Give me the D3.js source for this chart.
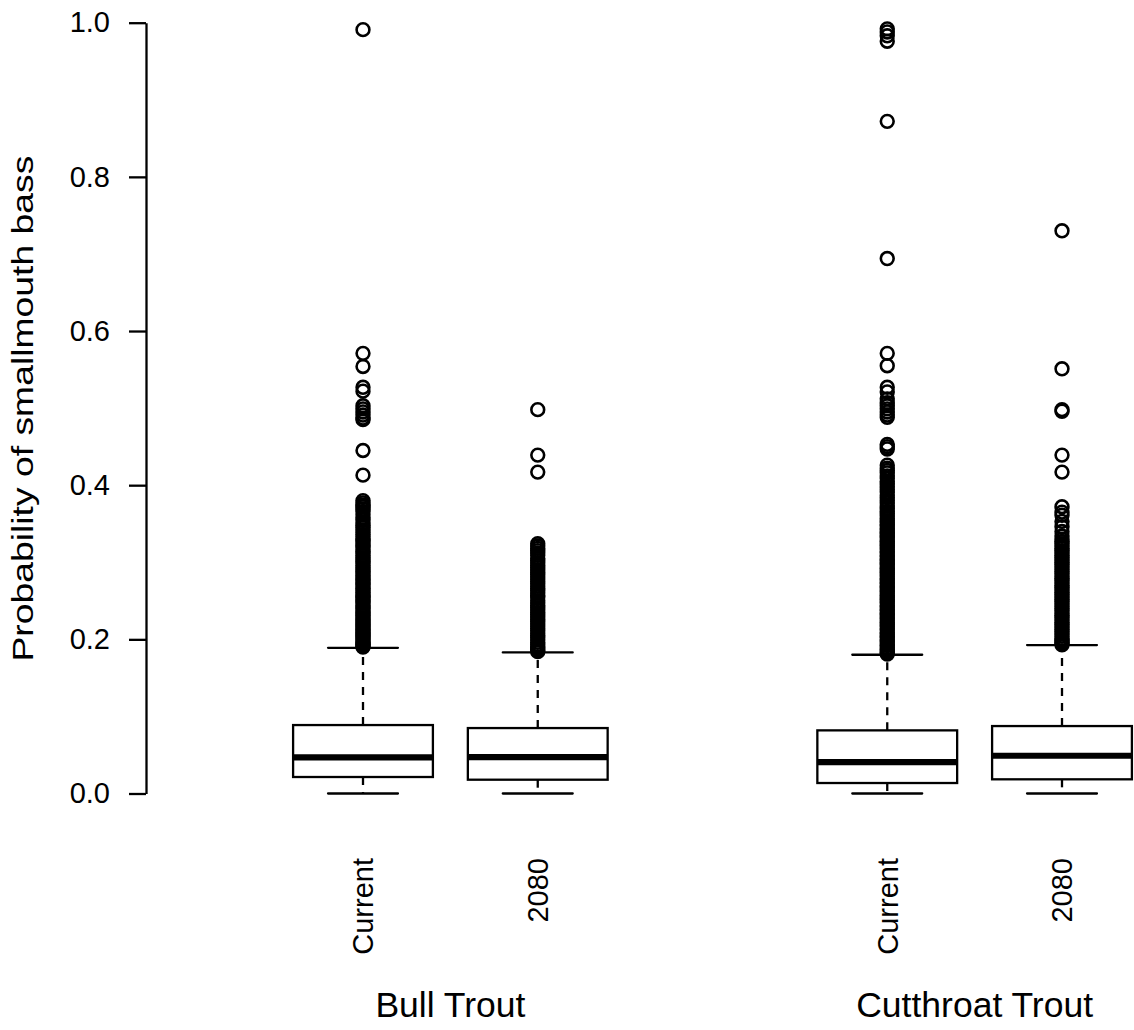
<!DOCTYPE html>
<html>
<head>
<meta charset="utf-8">
<script src="https://cdn.jsdelivr.net/npm/d3@7"></script>
<style>
  html, body { margin: 0; padding: 0; background: #fff; }
  svg { display: block; }
  text { font-family: "Liberation Sans", Arial, Helvetica, sans-serif; fill: #000; }
</style>
</head>
<body>
<svg id="chart" width="1134" height="1030"></svg>
<script>
// Box statistics per scenario (probability of smallmouth bass)
const groups = ["Bull Trout", "Cutthroat Trout"];
const categories = ["Current", "2080", "Current", "2080"];
const groupOf = [0, 0, 1, 1];
const positions = [1, 2, 4, 5];
const whiskerLow = [0, 0, 0, 0];
const q1 = [0.0214, 0.0179, 0.0136, 0.0184];
const median = [0.0469, 0.0473, 0.0408, 0.0490];
const q3 = [0.0888, 0.0849, 0.0819, 0.0875];
const whiskerHigh = [0.189, 0.183, 0.180, 0.1925];
const yTicks = [0, 0.2, 0.4, 0.6, 0.8, 1.0];

// Outlying observations beyond the upper whisker
const outBullCurrent = [
  0.991, 0.571, 0.554, 0.527, 0.522, 0.503, 0.499, 0.495, 0.491, 0.487, 0.485, 0.445, 0.413,
  0.380, 0.377, 0.374, 0.372, 0.369, 0.366, 0.362, 0.358, 0.355, 0.351, 0.348, 0.345, 0.342,
  0.339, 0.336, 0.333, 0.330, 0.328, 0.325, 0.322, 0.320, 0.317, 0.314, 0.312, 0.309, 0.306,
  0.304, 0.301, 0.299, 0.296, 0.293, 0.291, 0.288, 0.286, 0.283, 0.281, 0.278, 0.276, 0.273,
  0.271, 0.268, 0.266, 0.263, 0.261, 0.258, 0.256, 0.254, 0.251, 0.249, 0.247, 0.244, 0.242,
  0.240, 0.237, 0.235, 0.233, 0.231, 0.228, 0.226, 0.224, 0.222, 0.220, 0.218, 0.216, 0.214,
  0.212, 0.210, 0.208, 0.206, 0.204, 0.202, 0.200, 0.198, 0.196, 0.194, 0.193, 0.191, 0.190
];
const outBull2080 = [
  0.498, 0.439, 0.417,
  0.324, 0.321, 0.318, 0.315, 0.312, 0.309, 0.305, 0.302, 0.299, 0.296, 0.293, 0.290, 0.287,
  0.284, 0.281, 0.278, 0.275, 0.272, 0.269, 0.266, 0.263, 0.260, 0.257, 0.255, 0.250, 0.247,
  0.244, 0.241, 0.238, 0.235, 0.232, 0.229, 0.226, 0.223, 0.220, 0.217, 0.214, 0.211, 0.208,
  0.205, 0.202, 0.199, 0.196, 0.193, 0.190, 0.188, 0.186, 0.184
];
const outCutCurrent = [
  0.992, 0.988, 0.983, 0.976, 0.872, 0.694, 0.571, 0.555, 0.527, 0.521, 0.512, 0.507, 0.503,
  0.499, 0.495, 0.491, 0.488, 0.453, 0.450, 0.447,
  0.426, 0.422, 0.419, 0.416, 0.412, 0.409, 0.405, 0.402, 0.398, 0.394, 0.391, 0.387, 0.384,
  0.380, 0.377, 0.373, 0.370, 0.366, 0.363, 0.360, 0.357, 0.354, 0.352, 0.349, 0.347, 0.344,
  0.342, 0.339, 0.337, 0.334, 0.332, 0.329, 0.327, 0.324, 0.322, 0.319, 0.317, 0.314, 0.312,
  0.309, 0.307, 0.304, 0.302, 0.299, 0.297, 0.294, 0.292, 0.289, 0.287, 0.284, 0.282, 0.279,
  0.277, 0.274, 0.272, 0.269, 0.267, 0.264, 0.262, 0.259, 0.257, 0.254, 0.252, 0.249, 0.247,
  0.244, 0.242, 0.239, 0.237, 0.234, 0.232, 0.229, 0.227, 0.224, 0.222, 0.219, 0.217, 0.214,
  0.212, 0.209, 0.207, 0.204, 0.202, 0.199, 0.197, 0.194, 0.192, 0.189, 0.187, 0.185, 0.183,
  0.181
];
const outCut2080 = [
  0.730, 0.551, 0.498, 0.496, 0.439, 0.417,
  0.372, 0.365, 0.361, 0.353, 0.346, 0.340, 0.334, 0.330, 0.327, 0.324, 0.321, 0.318, 0.315,
  0.312, 0.309, 0.306, 0.303, 0.300, 0.297, 0.294, 0.291, 0.288, 0.285, 0.282, 0.279, 0.276,
  0.273, 0.270, 0.267, 0.264, 0.261, 0.258, 0.255, 0.252, 0.249, 0.246, 0.243, 0.240, 0.237,
  0.234, 0.231, 0.228, 0.225, 0.222, 0.219, 0.216, 0.213, 0.210, 0.207, 0.204, 0.201, 0.199,
  0.197, 0.195, 0.193
];
const outliers = [outBullCurrent, outBull2080, outCutCurrent, outCut2080];

const svg = d3.select("#chart");
const lw = 2.3;
const ptw = 2.6;

const x = d3.scaleLinear().domain([1, 5]).range([363, 1062]);
const y = d3.scaleLinear().domain([0, 1]).range([793.5, 22.7]);
const halfBox = 0.4;
const halfCap = 0.2;

// Left axis
const yAxis = d3.axisLeft(y)
  .tickValues(yTicks)
  .tickFormat(d3.format(".1f"))
  .tickSize(17)
  .tickSizeOuter(0)
  .tickPadding(19);
const gAxis = svg.append("g")
  .attr("transform", "translate(146,0)")
  .call(yAxis);
gAxis.select(".domain").attr("stroke", "#000").attr("stroke-width", lw);
gAxis.selectAll(".tick line").attr("stroke", "#000").attr("stroke-width", lw);
gAxis.selectAll(".tick text")
  .attr("font-size", 29)
  .attr("font-family", "'Liberation Sans', Arial, Helvetica, sans-serif")
  .attr("fill", "#000");

// Axis title
svg.append("text")
  .attr("transform", `translate(33,${(y(0) + y(1)) / 2 + 0.5}) rotate(-90)`)
  .attr("text-anchor", "middle")
  .attr("font-size", 29)
  .attr("textLength", 506)
  .attr("lengthAdjust", "spacingAndGlyphs")
  .text("Probability of smallmouth bass");

const idx = d3.range(positions.length);
const plot = svg.append("g");

// Whiskers (dashed)
plot.selectAll("line.whisker-up").data(idx).join("line")
  .attr("x1", i => x(positions[i])).attr("x2", i => x(positions[i]))
  .attr("y1", i => y(q3[i])).attr("y2", i => y(whiskerHigh[i]))
  .attr("stroke", "#000").attr("stroke-width", lw).attr("stroke-dasharray", "8,7");
plot.selectAll("line.whisker-down").data(idx).join("line")
  .attr("x1", i => x(positions[i])).attr("x2", i => x(positions[i]))
  .attr("y1", i => y(q1[i])).attr("y2", i => y(whiskerLow[i]))
  .attr("stroke", "#000").attr("stroke-width", lw).attr("stroke-dasharray", "8,7");

// Whisker caps
[whiskerHigh, whiskerLow].forEach(arr => {
  plot.append("g").selectAll("line").data(idx).join("line")
    .attr("x1", i => x(positions[i] - halfCap)).attr("x2", i => x(positions[i] + halfCap))
    .attr("y1", i => y(arr[i])).attr("y2", i => y(arr[i]))
    .attr("stroke", "#000").attr("stroke-width", lw).attr("stroke-linecap", "round");
});

// Boxes
plot.append("g").selectAll("rect").data(idx).join("rect")
  .attr("x", i => x(positions[i] - halfBox))
  .attr("width", i => x(positions[i] + halfBox) - x(positions[i] - halfBox))
  .attr("y", i => y(q3[i]))
  .attr("height", i => y(q1[i]) - y(q3[i]))
  .attr("fill", "#fff").attr("stroke", "#000").attr("stroke-width", lw);

// Medians
plot.append("g").selectAll("line").data(idx).join("line")
  .attr("x1", i => x(positions[i] - halfBox)).attr("x2", i => x(positions[i] + halfBox))
  .attr("y1", i => y(median[i])).attr("y2", i => y(median[i]))
  .attr("stroke", "#000").attr("stroke-width", 6.2);

// Outliers
idx.forEach(i => {
  plot.append("g").selectAll("circle").data(outliers[i]).join("circle")
    .attr("cx", x(positions[i]))
    .attr("cy", d => y(d))
    .attr("r", 6.4)
    .attr("fill", "none").attr("stroke", "#000").attr("stroke-width", ptw);
});

// Scenario labels (perpendicular)
svg.append("g").selectAll("text").data(idx).join("text")
  .attr("transform", i => `translate(${x(positions[i])},858) rotate(-90)`)
  .attr("text-anchor", "end")
  .attr("dy", "0.355em")
  .attr("font-size", 29)
  .text(i => categories[i]);

// Group labels
svg.append("g").selectAll("text").data(groups).join("text")
  .attr("x", (g, gi) => {
    const ps = idx.filter(i => groupOf[i] === gi).map(i => x(positions[i]));
    return d3.mean(ps);
  })
  .attr("y", 1016.7)
  .attr("text-anchor", "middle")
  .attr("font-size", 35.5)
  .text(g => g);
</script>
</body>
</html>
